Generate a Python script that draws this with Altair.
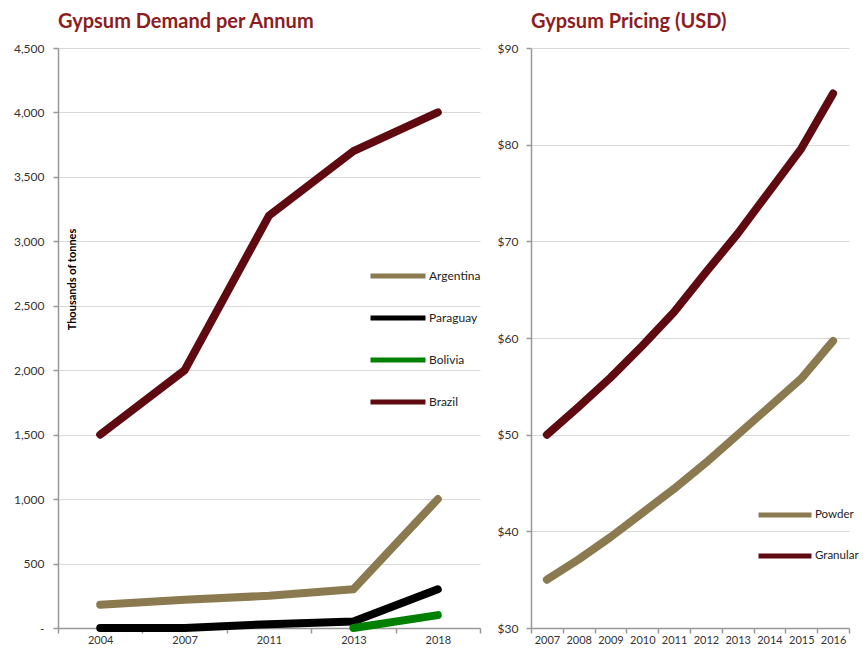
import altair as alt
import pandas as pd

# ---------------- data ----------------
demand_years = ["2004", "2007", "2011", "2013", "2018"]
demand_series = ["Argentina", "Paraguay", "Bolivia", "Brazil"]
argentina = [180, 220, 250, 300, 1000]
paraguay = [0, 0, 30, 50, 300]
bolivia = [None, None, None, 0, 100]
brazil = [1500, 2000, 3200, 3700, 4000]
demand_ticks = [0, 500, 1000, 1500, 2000, 2500, 3000, 3500, 4000, 4500]

price_years = ["2007", "2008", "2009", "2010", "2011", "2012", "2013", "2014", "2015", "2016"]
price_series = ["Powder", "Granular"]
powder = [35.0, 37.1, 39.4, 41.9, 44.4, 47.1, 50.0, 52.9, 55.8, 59.7]
granular = [50.0, 52.9, 55.9, 59.2, 62.7, 66.8, 70.8, 75.2, 79.6, 85.3]
price_ticks = [30, 40, 50, 60, 70, 80, 90]

# ---------------- styles ----------------
FONT = "Lato"
TITLE_COLOR = "#8C1D22"
TAN = "#8B7A50"
MAROON = "#5E0A10"
demand_colors = [TAN, "#000000", "#008000", MAROON]
price_colors = [TAN, MAROON]

rows = []
for name, vals in zip(demand_series, [argentina, paraguay, bolivia, brazil]):
    for yr, v in zip(demand_years, vals):
        if v is not None:
            rows.append({"year": yr, "value": v, "series": name})
demand_df = pd.DataFrame(rows)

rows = []
for name, vals in zip(price_series, [powder, granular]):
    for yr, v in zip(price_years, vals):
        rows.append({"year": yr, "value": v, "series": name})
price_df = pd.DataFrame(rows)


def x_enc(years):
    return alt.X(
        "year:O",
        sort=years,
        bandPosition=0.5,
        scale=alt.Scale(type="band", domain=years, paddingInner=0, paddingOuter=0),
        axis=alt.Axis(title=None, labelAngle=0, tickBand="extent", grid=False,
                      labelPadding=1, tickSize=5, labelFontSize=11),
    )


left = alt.Chart(demand_df).mark_line(
    strokeWidth=8, strokeCap="round", strokeJoin="round"
).encode(
    x=x_enc(demand_years),
    y=alt.Y(
        "value:Q",
        scale=alt.Scale(domain=[0, 4500], nice=False),
        axis=alt.Axis(
            values=demand_ticks,
            labelExpr="datum.value == 0 ? '-' : format(datum.value, ',')",
            title="Thousands of tonnes", titleAngle=270, titleX=14, titleY=231,
            titleAlign="center", titleBaseline="middle", titleFontWeight="bold",
            titleFontSize=11, titleColor="#000000", titleFont=FONT,
            labelPadding=9, tickSize=5, labelFontSize=12,
        ),
    ),
    color=alt.Color(
        "series:N",
        scale=alt.Scale(domain=demand_series, range=demand_colors),
        legend=alt.Legend(
            title=None, orient="none", legendX=310, legendY=198, direction="vertical",
            symbolType="stroke", symbolSize=3025, symbolStrokeWidth=5,
            labelOffset=1, labelFontSize=12, labelFont=FONT, labelColor="#222222",
            rowPadding=2, padding=0,
        ),
    ),
    order=alt.Order("series:N"),
).properties(
    width=422, height=580,
    title=alt.TitleParams("Gypsum Demand per Annum", anchor="start", frame="group",
                          fontSize=20, font=FONT, fontWeight="bold", color=TITLE_COLOR,
                          offset=10),
)

right = alt.Chart(price_df).mark_line(
    strokeWidth=8, strokeCap="round", strokeJoin="round"
).encode(
    x=x_enc(price_years),
    y=alt.Y(
        "value:Q",
        scale=alt.Scale(domain=[30, 90], nice=False, zero=False),
        axis=alt.Axis(values=price_ticks, format="$.0f", title=None,
                      labelPadding=8, tickSize=5, labelFontSize=12),
    ),
    color=alt.Color(
        "series:N",
        scale=alt.Scale(domain=price_series, range=price_colors),
        legend=alt.Legend(
            title=None, orient="none", legendX=225, legendY=438, direction="vertical",
            symbolType="stroke", symbolSize=2809, symbolStrokeWidth=5,
            labelOffset=1, labelFontSize=11.5, labelFont=FONT, labelColor="#222222",
            rowPadding=2, padding=0,
        ),
    ),
).properties(
    width=318, height=580,
    title=alt.TitleParams("Gypsum Pricing (USD)", anchor="start", frame="group",
                          fontSize=20, font=FONT, fontWeight="bold", color=TITLE_COLOR,
                          offset=10),
)

chart = alt.hconcat(left, right, spacing=16).resolve_scale(
    color="independent", x="independent", y="independent"
).properties(
    padding={"left": 5, "top": 4, "right": 0, "bottom": 0}
).configure_view(
    strokeWidth=0
).configure_axis(
    labelFont=FONT, labelColor="#333333",
    domainColor="#999999", tickColor="#999999", gridColor="#d9d9d9",
    domainWidth=1.5, tickWidth=1.5,
)

chart.save("out.html", embed_options={"renderer": "svg", "actions": False})
